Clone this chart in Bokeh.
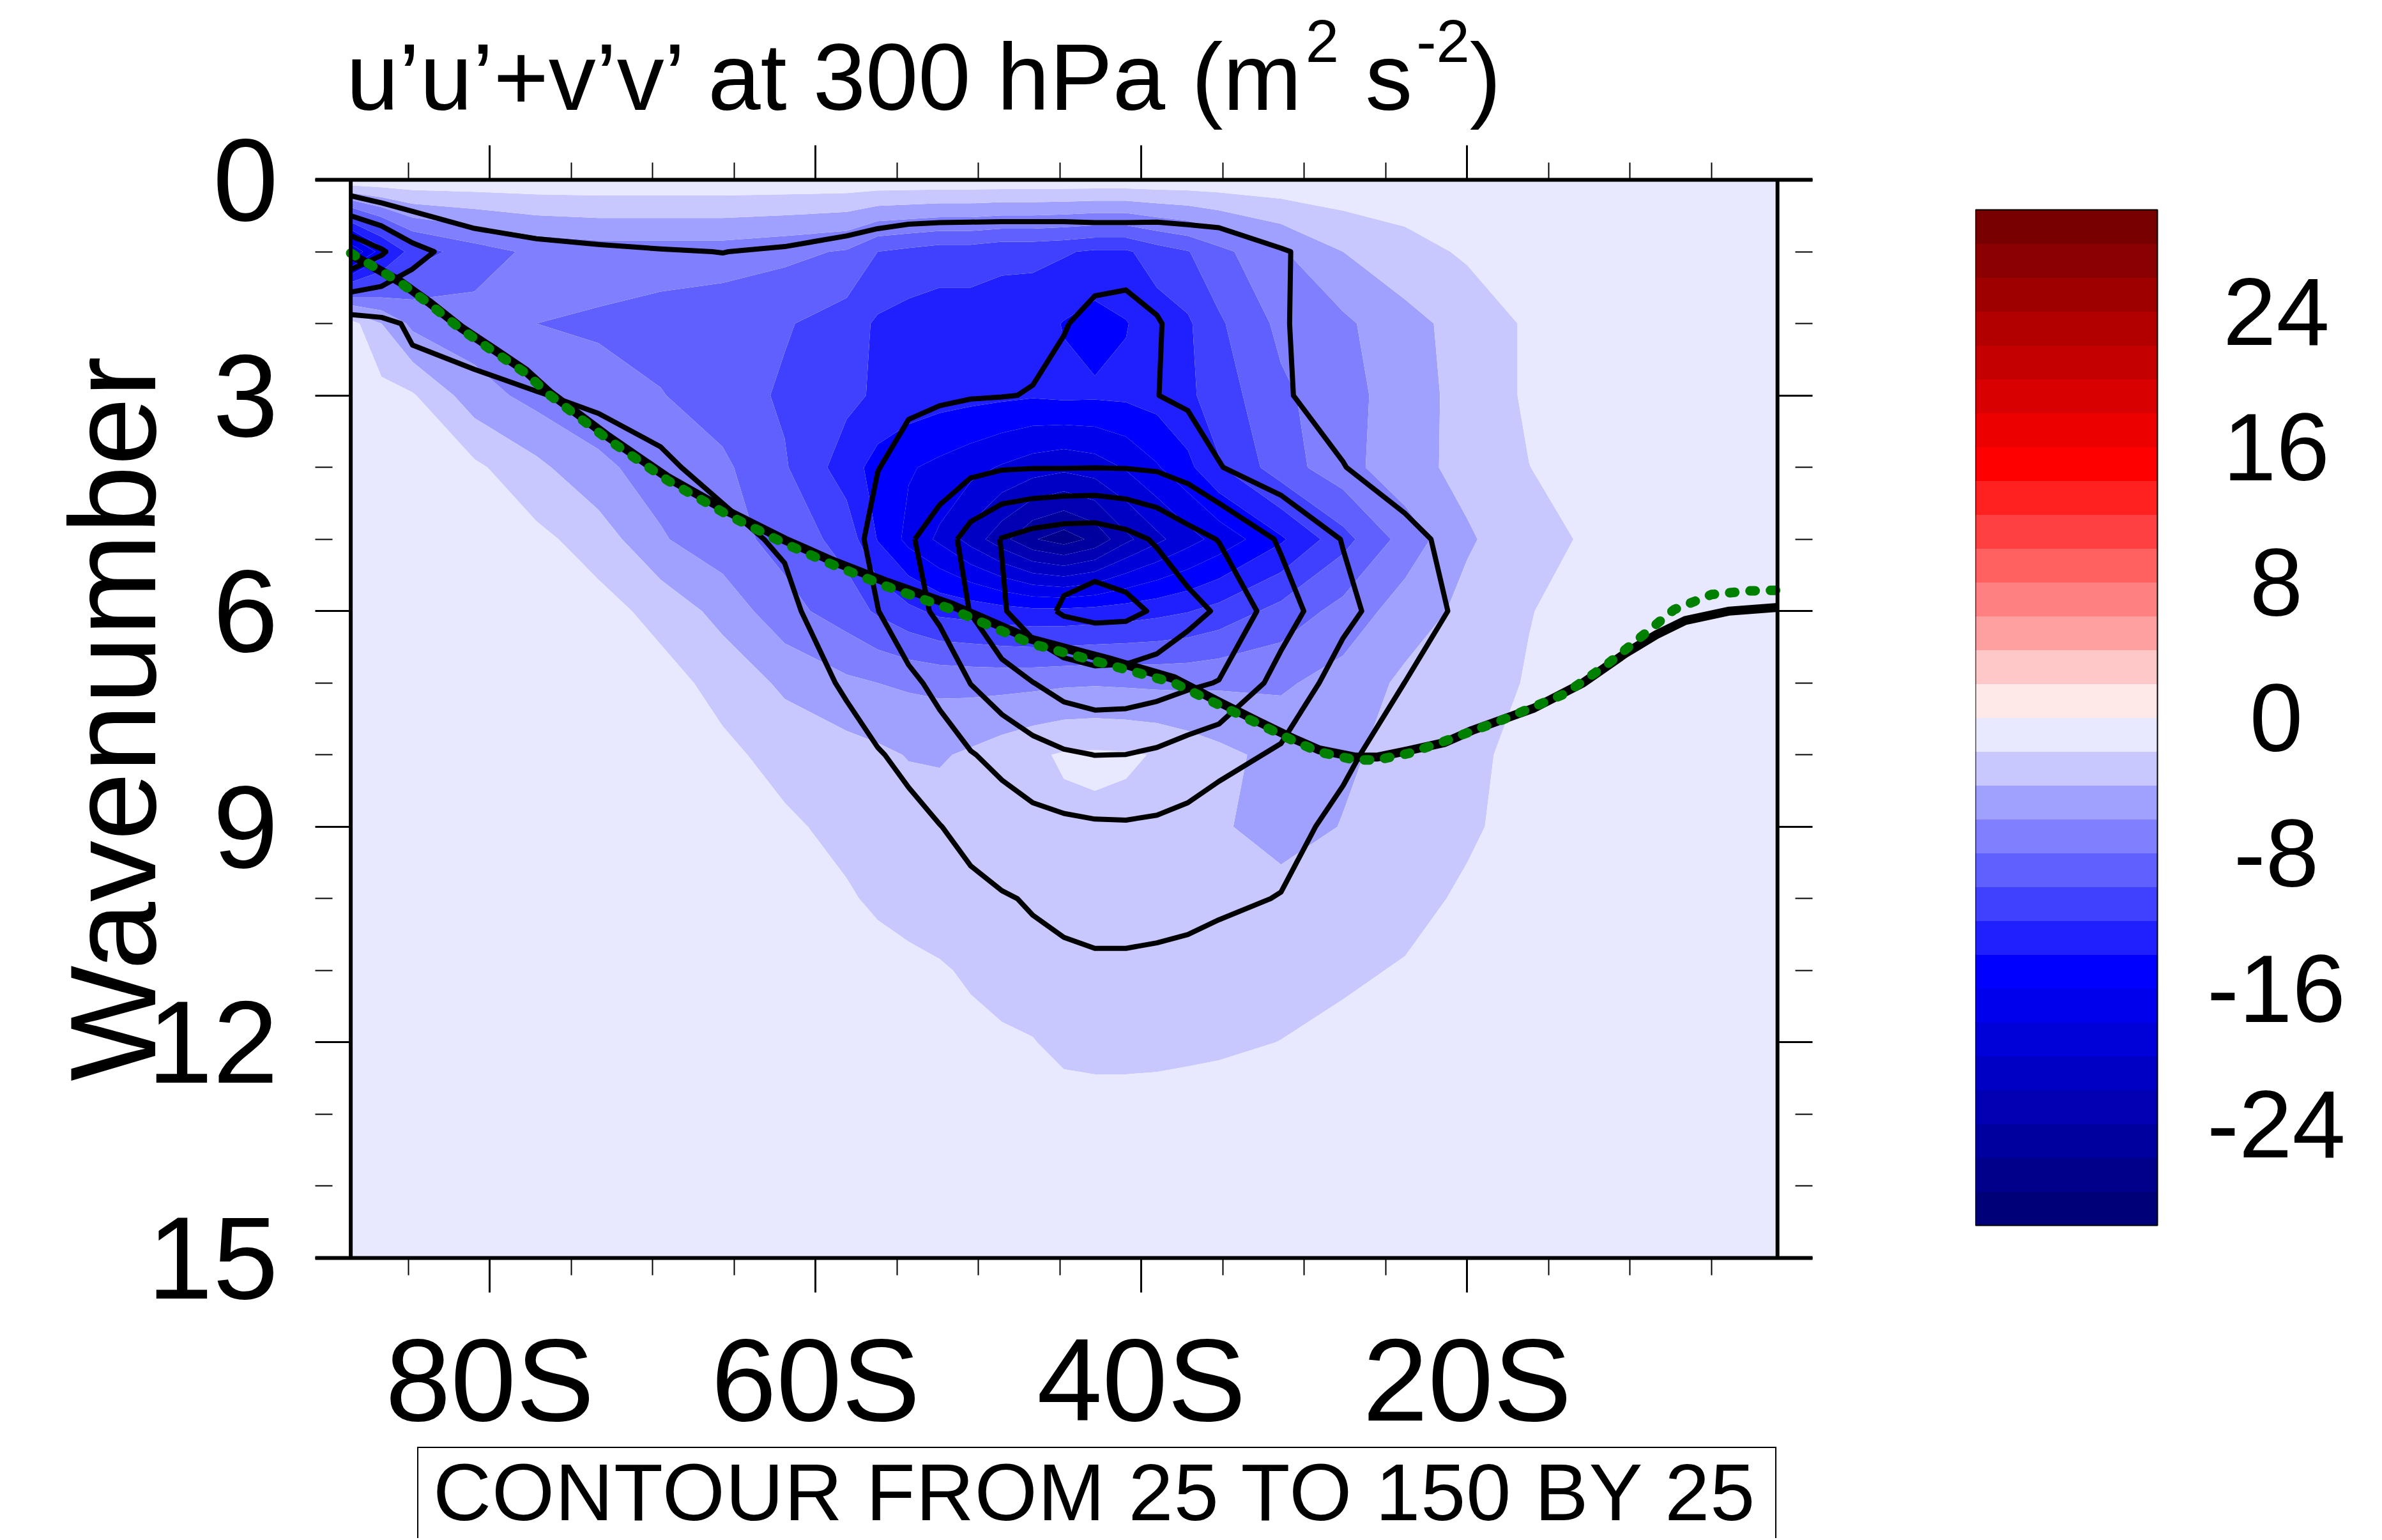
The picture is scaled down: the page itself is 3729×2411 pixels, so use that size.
import numpy as np
from bokeh.plotting import figure
from bokeh.models import Range1d, LinearAxis, FixedTicker, Div
from bokeh.layouts import row, column
from bokeh.embed import file_html
from bokeh.resources import INLINE
from bokeh.core.properties import value

# ---------------------------------------------------------------- data
lats = [-88.54, -86.65, -84.75, -80.95, -77.14, -73.33, -69.52, -65.71, -61.90,
        -58.10, -56.19, -54.29, -52.38, -50.48, -48.57, -46.67, -44.76, -42.86,
        -40.95, -39.05, -37.15, -35.24, -31.43, -27.62, -23.81, -20.00, -16.20,
        -12.39, -8.58, -4.77, -0.95]
wavenumbers = list(range(16))

# shaded field (rows = wavenumber 0..15, columns = lats)
shade = [
    [-0.5, -0.5, -0.5, -0.6, -0.6, -0.6, -0.6, -0.6, -0.6, -0.6, -0.6, -0.6, -0.6, -0.6, -0.6, -0.6, -0.6, -0.6, -0.6, -0.6, -0.6, -0.6, -0.5, -0.5, -0.5, -0.5, -0.5, -0.5, -0.5, -0.5, -0.5],
    [-20, -15, -11, -9, -7.5, -7, -7, -7, -7.5, -8.2, -10, -10.5, -11, -11, -11.5, -11.5, -11.8, -12.3, -12.3, -11, -10.1, -8.6, -6.2, -4.0, -2.8, -1.7, -1.2, -1.0, -0.8, -0.6, -0.5],
    [-1.2, -4.0, -6.5, -7.2, -8.0, -8.3, -8.8, -9.3, -9.8, -11.0, -12.3, -12.8, -13.0, -13.0, -13.0, -13.2, -14.1, -14.8, -14.1, -13.0, -12.3, -10.3, -7.5, -6.4, -4.6, -3.3, -1.7, -1.3, -1.0, -0.8, -0.6],
    [-0.9, -1.3, -1.8, -5.1, -6.7, -7.2, -7.9, -9.0, -10.3, -11.5, -12.3, -12.8, -13.2, -13.4, -13.6, -13.8, -13.6, -13.7, -13.6, -13.2, -12.4, -11.0, -8.4, -6.8, -4.9, -3.3, -1.7, -1.2, -1.0, -0.8, -0.6],
    [-0.7, -0.9, -1.1, -1.6, -3.5, -5.6, -6.8, -7.6, -9.8, -13.0, -14.8, -15.8, -16.5, -17.3, -18.2, -19.0, -19.5, -19.0, -17.8, -16.2, -14.5, -12.2, -8.9, -6.8, -4.6, -3.5, -2.02, -1.3, -1.0, -0.8, -0.6],
    [-0.5, -0.6, -0.7, -0.9, -1.5, -2.9, -5.8, -7.2, -8.7, -10.8, -14.1, -16.6, -18.4, -20.8, -23.3, -25.8, -27.0, -25.5, -22.5, -20.5, -18.8, -17.3, -14.3, -10.7, -7.2, -4.2, -3.0, -1.6, -1.1, -0.8, -0.6],
    [-0.4, -0.5, -0.6, -0.7, -0.9, -1.3, -2.6, -4.7, -7.3, -9.0, -10.3, -11.5, -12.5, -12.8, -13.2, -13.5, -13.5, -13.3, -13.0, -12.6, -12.1, -11.3, -9.3, -7.3, -5.0, -3.5, -2.05, -1.5, -1.1, -0.8, -0.6],
    [-0.3, -0.4, -0.5, -0.6, -0.7, -0.8, -1.3, -2.6, -4.4, -5.6, -6.0, -6.3, -6.5, -6.6, -6.6, -6.5, -6.3, -6.2, -6.3, -6.4, -6.4, -6.3, -6.3, -5.2, -3.6, -2.6, -1.9, -1.3, -1.0, -0.8, -0.6],
    [-0.3, -0.3, -0.4, -0.5, -0.6, -0.7, -0.9, -1.6, -2.6, -3.2, -3.6, -4.1, -4.2, -3.7, -3.0, -2.3, -1.8, -1.7, -1.8, -2.1, -2.8, -3.5, -4.6, -4.4, -3.2, -2.3, -1.6, -1.2, -1.0, -0.8, -0.6],
    [-0.3, -0.3, -0.3, -0.4, -0.5, -0.6, -0.8, -1.1, -1.7, -2.5, -2.8, -3.0, -3.1, -3.1, -3.0, -2.6, -2.4, -2.3, -2.4, -2.7, -3.3, -3.7, -5.0, -3.9, -3.1, -2.2, -1.5, -1.1, -0.9, -0.7, -0.5],
    [-0.3, -0.3, -0.3, -0.3, -0.4, -0.5, -0.6, -0.8, -1.2, -1.8, -2.3, -2.6, -2.8, -2.9, -2.9, -2.9, -2.9, -2.9, -2.9, -2.9, -2.9, -2.9, -3.1, -2.8, -2.4, -1.8, -1.3, -1.0, -0.8, -0.6, -0.5],
    [-0.2, -0.2, -0.2, -0.3, -0.3, -0.4, -0.5, -0.6, -0.8, -1.0, -1.3, -1.6, -1.85, -2.2, -2.5, -2.6, -2.7, -2.7, -2.7, -2.7, -2.6, -2.6, -2.5, -2.2, -1.9, -1.4, -1.1, -0.9, -0.7, -0.5, -0.4],
    [-0.2, -0.2, -0.2, -0.2, -0.3, -0.3, -0.4, -0.5, -0.6, -0.8, -1.0, -1.2, -1.4, -1.6, -1.8, -1.95, -2.3, -2.4, -2.4, -2.35, -2.3, -2.2, -1.98, -1.7, -1.4, -1.1, -0.9, -0.7, -0.6, -0.5, -0.4],
    [-0.2, -0.2, -0.2, -0.2, -0.2, -0.3, -0.3, -0.4, -0.5, -0.6, -0.7, -0.9, -1.0, -1.2, -1.3, -1.4, -1.5, -1.5, -1.5, -1.5, -1.4, -1.4, -1.3, -1.1, -1.0, -0.8, -0.7, -0.6, -0.5, -0.4, -0.3],
    [-0.1, -0.1, -0.1, -0.2, -0.2, -0.2, -0.3, -0.3, -0.4, -0.5, -0.5, -0.6, -0.7, -0.8, -0.9, -1.0, -1.0, -1.0, -1.0, -1.0, -1.0, -0.9, -0.9, -0.8, -0.7, -0.6, -0.5, -0.4, -0.4, -0.3, -0.3],
    [-0.1, -0.1, -0.1, -0.1, -0.1, -0.2, -0.2, -0.2, -0.3, -0.3, -0.4, -0.4, -0.5, -0.5, -0.6, -0.6, -0.7, -0.7, -0.7, -0.7, -0.6, -0.6, -0.6, -0.5, -0.5, -0.4, -0.4, -0.3, -0.3, -0.2, -0.2],
]

# line-contoured field
eke = [
    [5, 0, 0, 0, 0, 0, 0, 0, 0, 0, 0, 0, 0, 0, 0, 0, 0, 0, 0, 0, 0, 0, 0, 0, 0, 0, 0, 0, 0, 0, 0],
    [95, 78, 57, 37, 30.5, 27.8, 26.0, 24.8, 26.9, 32, 36.8, 40.5, 42, 42.5, 43, 43, 43, 42, 42, 42.5, 40, 37.5, 26.3, 18, 10, 6, 4, 3, 2, 2, 2],
    [15, 20, 28, 32, 33, 34, 35, 36, 38, 40, 42, 43, 44, 45, 46, 47, 49, 55, 57, 51, 45, 40, 25.8, 20, 12, 7, 5, 3, 3, 2, 2],
    [8, 12, 18, 21, 24.5, 27, 30, 33, 37, 41, 44, 47, 48, 49, 49.5, 50.5, 55, 62, 60, 50.3, 46, 40, 26.5, 19, 12, 7, 5, 3, 3, 2, 2],
    [4, 6, 9, 12, 15, 19, 23, 29, 35, 42, 49.5, 56, 62, 69, 73, 74, 74, 74.5, 74, 72, 65, 51, 36, 25.5, 16, 9, 5, 3, 3, 2, 2],
    [2, 3, 5, 7, 9, 12, 16, 21, 27, 41, 57, 72, 87, 110, 126, 134, 139, 140, 133, 122, 109, 99, 72, 49, 30, 18, 10, 6, 4, 3, 2],
    [1, 2, 3, 4, 6, 8, 11, 15, 21, 36, 49.5, 65, 80, 101, 122, 141, 153, 157, 156, 147, 133, 122, 86, 56, 36, 20, 11, 6, 4, 3, 2],
    [1, 1, 2, 3, 4, 6, 8, 11, 16, 27, 38, 45, 56, 75.5, 89, 99.5, 110, 115, 114, 110, 104, 99, 66, 40, 24.8, 15, 9, 5, 4, 3, 2],
    [0, 1, 1, 2, 3, 4, 6, 8, 12, 19, 23.5, 30, 40, 48.5, 57, 66, 72, 75.2, 74.8, 71, 64, 57, 47, 28, 17, 10, 6, 4, 3, 2, 2],
    [0, 0, 1, 1, 2, 3, 4, 6, 8, 12, 15, 19, 24.5, 31, 37, 42, 45, 47, 47.5, 46, 43, 38, 30, 21, 13, 8, 5, 3, 2, 2, 1],
    [0, 0, 0, 1, 1, 2, 3, 4, 5, 7, 9, 12, 16, 20, 23.5, 26.5, 28.5, 29.5, 29.5, 29, 28, 27.5, 24.5, 15, 10, 6, 4, 2, 2, 1, 1],
    [0, 0, 0, 0, 1, 1, 2, 3, 4, 5, 6, 8, 10, 13, 17, 20, 22, 23, 23, 22.5, 22, 19, 15, 10, 7, 4, 3, 2, 1, 1, 1],
    [0, 0, 0, 0, 0, 1, 1, 2, 2, 3, 4, 5, 6, 8, 10, 12, 13, 14, 14, 14, 13, 12, 10, 7, 5, 3, 2, 1, 1, 0, 0],
    [0, 0, 0, 0, 0, 0, 1, 1, 1, 2, 2, 3, 3, 4, 5, 6, 7, 7, 7, 7, 7, 6, 5, 4, 3, 2, 1, 1, 0, 0, 0],
    [0, 0, 0, 0, 0, 0, 0, 0, 1, 1, 1, 1, 2, 2, 2, 3, 3, 3, 3, 3, 3, 3, 2, 2, 1, 1, 1, 0, 0, 0, 0],
    [0, 0, 0, 0, 0, 0, 0, 0, 0, 0, 1, 1, 1, 1, 1, 1, 1, 1, 1, 1, 1, 1, 1, 1, 1, 0, 0, 0, 0, 0, 0],
]

for name, grid in (("shade", shade), ("eke", eke)):
    for i, r in enumerate(grid):
        if len(r) != len(lats):
            raise ValueError(f"{name} row {i} has {len(r)} values")

shade_levels = list(range(-30, 31, 2))
shade_palette = [
    "#000078", "#00008B", "#00009E", "#0000B2", "#0000C5", "#0000D8", "#0000EC", "#0000FF",
    "#2020FF", "#4040FF", "#6060FF", "#8080FF", "#A0A0FF", "#C8C8FF", "#E8E8FF",
    "#FFE8E8", "#FFC8C8", "#FFA0A0", "#FF8080", "#FF6060", "#FF4040", "#FF2020",
    "#FF0000", "#EC0000", "#D80000", "#C50000", "#B20000", "#9E0000", "#8B0000", "#780000",
]
eke_levels = [25, 50, 75, 100, 125, 150]

# stationary wavenumber curves
ks_lat = [-88.54, -86.9, -85.5, -83.7, -81.7, -79.7, -77.8, -76.3, -72.7, -69.1, -65.5,
          -61.9, -58.9, -55.6, -51.6, -46.8, -41.8, -38.0, -35.1, -32.8, -30.8, -29.1,
          -26.9, -25.5, -23.6, -21.4, -19.7, -15.9, -12.9, -10.3, -8.4, -6.6, -3.9, -0.95]
ks_k = [1.04, 1.24, 1.42, 1.71, 2.07, 2.37, 2.66, 2.97, 3.58, 4.14, 4.60, 5.01, 5.31, 5.60,
        5.92, 6.39, 6.69, 6.94, 7.28, 7.54, 7.76, 7.93, 8.03, 8.03, 7.94, 7.83, 7.66, 7.35,
        7.00, 6.59, 6.33, 6.13, 6.00, 5.95]
ks2_lat = [-88.54, -86.9, -85.5, -83.7, -81.7, -79.7, -77.8, -76.3, -72.7, -69.1, -65.5,
           -61.9, -58.9, -55.6, -51.6, -46.8, -41.8, -38.0, -35.1, -32.8, -30.8, -29.1,
           -26.9, -25.5, -23.6, -21.5, -17.8, -14.0, -11.4, -9.5, -7.3, -5.0, -2.8, -0.95]
ks2_k = [1.02, 1.24, 1.43, 1.73, 2.09, 2.40, 2.69, 3.00, 3.62, 4.18, 4.65, 5.06, 5.36, 5.66,
         5.98, 6.45, 6.76, 7.00, 7.32, 7.57, 7.79, 7.96, 8.07, 8.07, 7.98, 7.82, 7.51, 7.15,
         6.74, 6.39, 5.98, 5.77, 5.72, 5.71]

lat_ticks = [-80, -60, -40, -20]
lat_tick_labels = ["80S", "60S", "40S", "20S"]
lat_minor = [-85, -75, -70, -65, -55, -50, -45, -35, -30, -25, -15, -10, -5]
k_ticks = [0, 3, 6, 9, 12, 15]
k_minor = [1, 2, 4, 5, 7, 8, 10, 11, 13, 14]
cb_ticks = [-24, -16, -8, 0, 8, 16, 24]
cb_labels = ["-24", "-16", "-8", "0", "8", "16", "24"]

title_main = "u\u2019u\u2019+v\u2019v\u2019 at 300 hPa (m"
title_sup1 = "2"
title_mid = " s"
title_sup2 = "-2"
title_end = ")"
contour_info = "CONTOUR FROM 25 TO 150 BY 25"
y_label = "Wavenumber"

# ---------------------------------------------------------------- layout (page pixels)
FONT = "Liberation Sans"
W_TOTAL, H_TOTAL = 3725, 2408
T_H = 206                     # height of the title strip (overlaps the transparent plot border)
H = 2265                      # height of the plot row (top of info box)
W1 = 2910                     # width of main figure
FL, FT, FW, FH = 493, 281, 2344, 1688
X0, X1 = -90.72, 1.20
K_TOP, K_BOT = 15, 0

p = figure(width=W1, height=H, x_range=Range1d(X0, X1), y_range=Range1d(K_TOP, K_BOT),
           output_backend="svg", toolbar_location=None, title=None,
           min_border_left=FL, min_border_top=FT,
           min_border_right=W1 - FL - FW, min_border_bottom=H - FT - FH)
p.background_fill_color = "white"
p.border_fill_color = None
p.outline_line_color = None
p.xgrid.visible = False
p.ygrid.visible = False

# axes
def style_x(ax, show):
    ax.ticker = FixedTicker(ticks=lat_ticks, minor_ticks=lat_minor)
    ax.major_tick_out = 54
    ax.major_tick_in = 0
    ax.minor_tick_out = 27
    ax.minor_tick_in = 0
    ax.axis_line_width = 6
    ax.axis_line_color = "black"
    ax.major_tick_line_color = "black"
    ax.minor_tick_line_color = "black"
    ax.major_tick_line_width = 3
    ax.minor_tick_line_width = 2
    if show:
        ax.major_label_overrides = dict(zip(lat_ticks, lat_tick_labels))
        ax.major_label_text_font = FONT
        ax.major_label_text_font_size = "184px"
        ax.major_label_text_color = "black"
        ax.major_label_standoff = 33
    else:
        ax.major_label_overrides = {t: "" for t in lat_ticks}
        ax.major_label_text_font_size = "1px"
        ax.major_label_standoff = 0

def style_y(ax, show):
    ax.ticker = FixedTicker(ticks=k_ticks, minor_ticks=k_minor)
    ax.major_tick_out = 0
    ax.major_tick_in = 54
    ax.minor_tick_out = 0
    ax.minor_tick_in = 27
    ax.axis_line_color = None
    ax.major_tick_line_color = "black"
    ax.minor_tick_line_color = "black"
    ax.major_tick_line_width = 3
    ax.minor_tick_line_width = 2
    if show:
        ax.major_label_text_font = FONT
        ax.major_label_text_font_size = "184px"
        ax.major_label_text_color = "black"
        ax.major_label_standoff = 58
        ax.axis_label = y_label
        ax.axis_label_text_font = FONT
        ax.axis_label_text_font_size = "192px"
        ax.axis_label_text_font_style = "normal"
        ax.axis_label_text_color = "black"
        ax.axis_label_standoff = -56
    else:
        ax.major_label_overrides = {t: "" for t in k_ticks}
        ax.major_label_text_font_size = "1px"
        ax.major_label_standoff = 0

style_x(p.xaxis[0], True)
style_y(p.yaxis[0], True)
top_axis = LinearAxis()
style_x(top_axis, False)
p.add_layout(top_axis, "above")
right_axis = LinearAxis()
style_y(right_axis, False)
p.add_layout(right_axis, "right")

# filled and line contours
p.contour(lats, wavenumbers, np.array(shade), shade_levels,
          fill_color=shade_palette, line_color=None)
p.contour(lats, wavenumbers, np.array(eke), eke_levels,
          fill_color=None, line_color="black", line_width=8, line_join="round")

# stationary wavenumber curves
p.line(ks_lat, ks_k, line_color="black", line_width=14, line_join="round")
p.line(ks2_lat, ks2_k, line_color="#008000", line_width=15, line_dash="8 24",
       line_cap="round", line_join="round")

# data-area side borders
for edge in (lats[0], lats[-1]):
    p.line([edge, edge], [wavenumbers[0], wavenumbers[-1]], line_color="black", line_width=6)

# ---------------------------------------------------------------- colour bar
CB_L, CB_T, CB_W, CB_H = 3092, 328, 285, 1590
W2 = W_TOTAL - W1
cb_frame_left = CB_L - W1
cb_frame_w = W2 - cb_frame_left
px_per_unit = CB_H / (shade_levels[-1] - shade_levels[0])
cb_lo = shade_levels[0] - (FT + FH - (CB_T + CB_H)) / px_per_unit
cb_hi = shade_levels[-1] + (CB_T - FT) / px_per_unit
pc = figure(width=W2, height=H, x_range=Range1d(0, cb_frame_w),
            y_range=Range1d(cb_lo, cb_hi),
            output_backend="svg", toolbar_location=None, title=None,
            x_axis_location=None, y_axis_location=None,
            min_border_left=cb_frame_left, min_border_right=0,
            min_border_top=FT, min_border_bottom=H - FT - FH)
pc.background_fill_color = "white"
pc.border_fill_color = None
pc.outline_line_color = None
pc.xgrid.visible = False
pc.ygrid.visible = False
pc.quad(left=0, right=CB_W, bottom=shade_levels[:-1], top=shade_levels[1:],
        fill_color=shade_palette, line_color=shade_palette, line_width=1)
pc.quad(left=0, right=CB_W, bottom=shade_levels[0], top=shade_levels[-1],
        fill_color=None, line_color="black", line_width=2)
cb_label_x = 3563 - CB_L
pc.text(x=[cb_label_x] * len(cb_ticks), y=cb_ticks, text=cb_labels,
        text_align="center", text_baseline="middle",
        text_font=value(FONT), text_font_size="150px", text_color="black")

# ---------------------------------------------------------------- title strip
sup_style = "font-size:94px; position:relative; top:-75px; margin-left:6px;"
title_html = (
    '<div style="position:relative; left:542px; top:0px; height:%dpx; box-sizing:border-box; '
    'padding-top:38px; font-family:\'Liberation Sans\', Arial, sans-serif; font-size:148px; '
    'line-height:165px; color:black; white-space:nowrap;">'
    '%s<span style="%s">%s</span>%s<span style="%s">%s</span>%s</div>'
    % (T_H, title_main, sup_style, title_sup1, title_mid, sup_style, title_sup2, title_end)
)
# the strip sits behind the (transparent) top border of the plot row
title_div = Div(text=title_html, width=W_TOTAL, height=T_H, margin=(0, 0, -T_H, 0))

# ---------------------------------------------------------------- contour-info box
box_h = H_TOTAL - H
box_html = (
    '<div style="position:relative; left:653px; top:0px; width:2128px; height:%dpx; '
    'box-sizing:border-box; border:2px solid black; border-bottom:none; '
    'padding:0 0 0 23px; font-family:\'Liberation Sans\', Arial, sans-serif; '
    'font-size:126px; line-height:140px; letter-spacing:1px; color:black; '
    'white-space:nowrap; overflow:hidden;">%s</div>' % (box_h, contour_info)
)
info = Div(text=box_html, width=W_TOTAL, height=box_h, margin=0)

layout = column(title_div, row(p, pc), info)
open("out.html", "w").write(file_html(layout, INLINE))
